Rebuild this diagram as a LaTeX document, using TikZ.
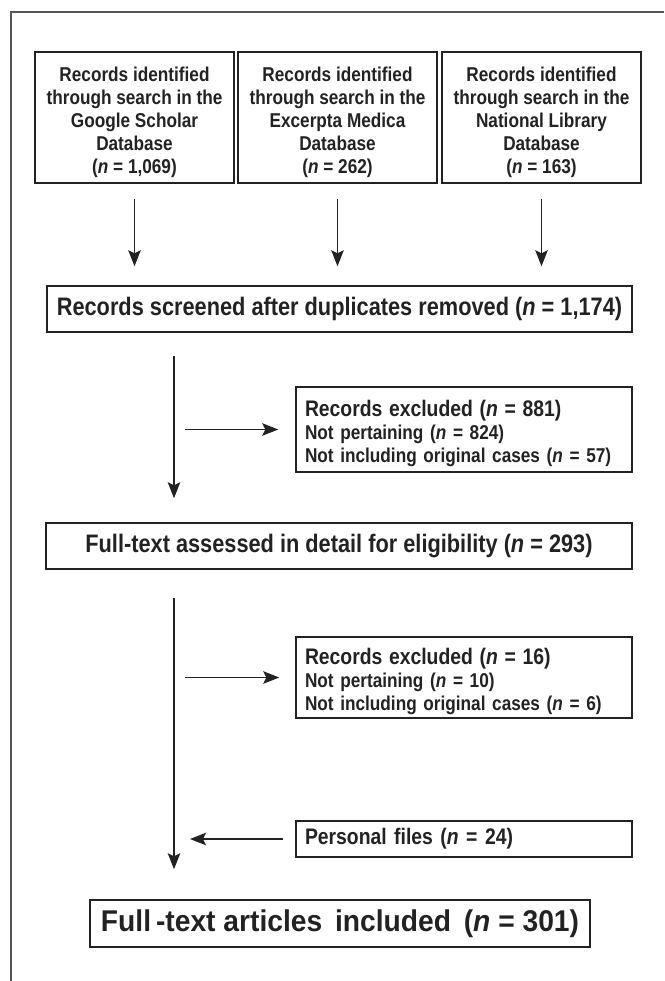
\documentclass[tikz,border=0pt]{standalone}
\usepackage{fontspec}
\setmainfont[FakeStretch=0.86]{Liberation Sans}
\newfontfamily\finalfont[FakeStretch=0.94]{Liberation Sans}
\usetikzlibrary{arrows.meta}
\definecolor{ink}{HTML}{222222}
\definecolor{framegray}{HTML}{555555}
\newcommand{\firstup}{\rule{0pt}{24pt}}
\begin{document}
\begin{tikzpicture}[x=1pt,y=-1pt,
  box/.style={draw=ink, line width=1.5pt, text=ink, inner sep=0pt, font=\bfseries},
  topbox/.style={box, minimum width=199pt, minimum height=131pt, align=center,
     font=\bfseries\fontsize{20}{23}\selectfont},
  bigbox/.style={box, minimum height=46pt, font=\bfseries\fontsize{25.3}{29}\selectfont},
  sidebox/.style={box, text width=318pt, inner xsep=9pt, align=left,
     font=\bfseries\fontsize{20}{23}\selectfont},
  arr/.style={draw=ink, line width=1.4pt, -{Stealth[length=16pt,width=12.5pt,inset=3pt]}},
  frameline/.style={draw=framegray, line width=1.3pt}
]
\useasboundingbox (0,0) rectangle (664,981);
\draw[frameline] (11,981) -- (11,12) -- (664,12);

\coordinate (spine) at (174,0);

\node[topbox] (b1) at (134.5,117.5) {\firstup Records identified\\through search in the\\Google Scholar\\Database\\(\textit{n} = 1,069)};
\node[topbox] (b2) at (337.5,117.5) {\firstup Records identified\\through search in the\\Excerpta Medica\\Database\\(\textit{n} = 262)};
\node[topbox] (b3) at (541.5,117.5) {\firstup Records identified\\through search in the\\National Library\\Database\\(\textit{n} = 163)};

\node[bigbox, minimum width=585pt] (screen) at (339.5,309) {Records screened after duplicates removed (\textit{n} = 1,174)};

\node[sidebox, minimum height=85pt] (ex1) at (464,429.5) {{\fontsize{22.5}{23}\selectfont \firstup Records excluded (\textit{n}\ = 881)}\\Not pertaining (\textit{n} = 824)\\Not including original cases (\textit{n} = 57)};

\node[bigbox, minimum width=586pt] (full) at (339,546) {Full-text assessed in detail for eligibility (\textit{n} = 293)};

\node[sidebox, minimum height=81pt] (ex2) at (464,677.5) {{\fontsize{22.5}{23}\selectfont \firstup Records excluded (\textit{n} = 16)}\\Not pertaining (\textit{n} = 10)\\Not including original cases (\textit{n} = 6)};

\node[sidebox, minimum height=36pt, font=\bfseries\fontsize{22.5}{25}\selectfont] (pf) at (464,839) {Personal files (\textit{n} = 24)};

\node[box, minimum width=500pt, minimum height=47pt, font=\finalfont\bfseries\fontsize{30}{34}\selectfont] (final) at (340,923.5) {Full\,-text articles\ \,included\ \,(\textit{n} = 301)};

\foreach \b in {b1,b2,b3}
  \draw[arr, shorten <=15pt, shorten >=19pt] (\b.south) -- (\b.south |- screen.north);

\draw[arr, shorten <=23pt, shorten >=24pt] (screen.south -| spine) -- (full.north -| spine);
\draw[arr, shorten <=11pt, shorten >=17pt] (ex1.west -| spine) -- (ex1.west);

\draw[arr, shorten <=28pt, shorten >=30pt] (full.south -| spine) -- (final.north -| spine);
\draw[arr, shorten <=11pt, shorten >=16pt] (ex2.west -| spine) -- (ex2.west);
\draw[arr, shorten <=12pt, shorten >=16pt] (pf.west) -- (pf.west -| spine);
\end{tikzpicture}
\end{document}
